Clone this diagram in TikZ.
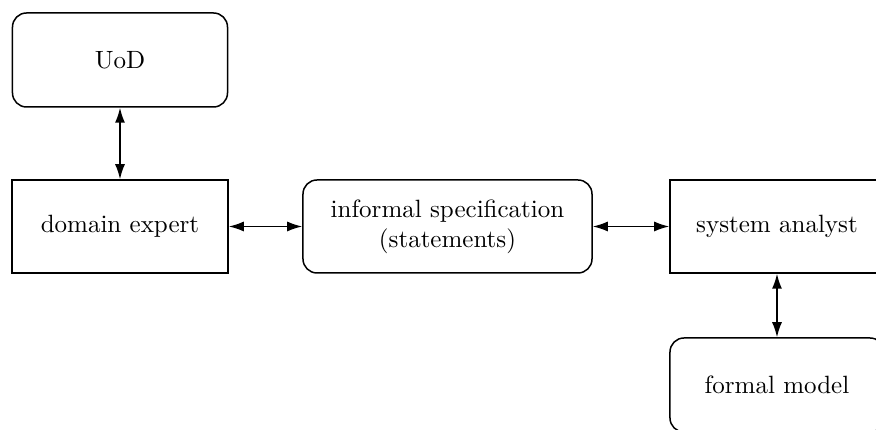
\documentclass[tikz,border=0pt]{standalone}
\usetikzlibrary{arrows.meta}
\begin{document}
\begin{tikzpicture}[x=0.4pt,y=-0.4pt,
  box/.style={draw,line width=0.6pt,align=center,inner sep=0pt,font=\normalsize},
  rbox/.style={box,rounded corners=5.6pt},
  link/.style={line width=0.6pt,{Latex[length=6pt,width=4pt]}-{Latex[length=6pt,width=4pt]}}]
\useasboundingbox (0,0) rectangle (876,430);
\node[rbox,minimum width=86pt,minimum height=37.6pt] (uod) at (120,60) {UoD};
\node[box,minimum width=86.4pt,minimum height=37.2pt] (de) at (120,226.5) {domain expert};
\node[rbox,minimum width=115.6pt,minimum height=37.2pt] (inf) at (447.5,226.5) {informal specification\\(statements)};
\node[box,minimum width=85.6pt,minimum height=37.2pt] (sa) at (777,226.5) {system analyst};
\node[rbox,minimum width=85.6pt,minimum height=37.6pt] (fm) at (777,385) {formal model};
\draw[link] (uod.south) -- (de.north);
\draw[link] (de.east) -- (inf.west);
\draw[link] (inf.east) -- (sa.west);
\draw[link] (sa.south) -- (fm.north);
\end{tikzpicture}
\end{document}
